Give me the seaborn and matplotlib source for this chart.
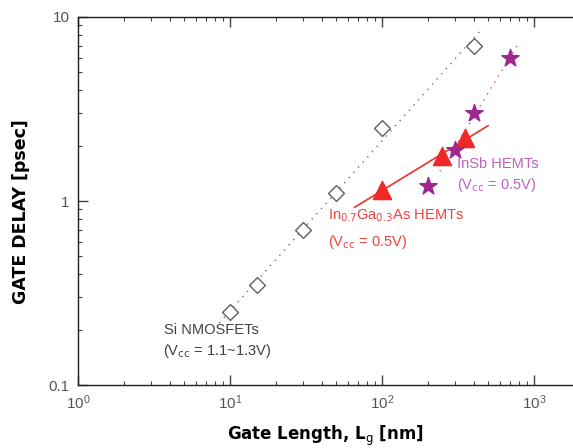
import numpy as np
import pandas as pd
import matplotlib
matplotlib.use("Agg")
import matplotlib.pyplot as plt
import seaborn as sns
from matplotlib.ticker import LogLocator, FixedLocator, FixedFormatter, LogFormatterMathtext, NullFormatter

# ---- data ----
si_len = [10, 15, 30, 50, 100, 400]
si_delay = [0.25, 0.35, 0.7, 1.1, 2.5, 7.0]
si_fit_range = [8.5, 450]

ingaas_len = [100, 250, 350]
ingaas_delay = [1.15, 1.75, 2.2]
ingaas_fit_range = [66, 500]

insb_len = [200, 300, 400, 700]
insb_delay = [1.2, 1.9, 3.0, 6.0]
insb_fit_len = [300, 400, 700]
insb_fit_delay = [1.9, 3.0, 6.0]
insb_fit_range = [240, 780]

y_ticks = [0.1, 1, 10]
y_tick_labels = ["0.1", "1", "10"]

sns.set_theme(style="white")
plt.rcParams['font.family'] = ['Liberation Sans', 'DejaVu Sans']

fig = plt.figure(figsize=(5.73, 4.48), dpi=100)
ax = fig.add_axes([78/573, 63/448, 532/573, 368/448])

def fit_line(xs, ys, rng):
    k, b = np.polyfit(np.log10(xs), np.log10(ys), 1)
    xx = np.logspace(np.log10(rng[0]), np.log10(rng[1]), 50)
    return pd.DataFrame({"x": xx, "y": 10 ** (k * np.log10(xx) + b)})

si_line = fit_line(si_len, si_delay, si_fit_range)
sns.lineplot(data=si_line, x="x", y="y", ax=ax, color="#707070",
             linestyle=(0, (1, 4)), linewidth=1.0)
ga_line = fit_line(ingaas_len, ingaas_delay, ingaas_fit_range)
sns.lineplot(data=ga_line, x="x", y="y", ax=ax, color="#f03030", linewidth=1.2)
sb_line = fit_line(insb_fit_len, insb_fit_delay, insb_fit_range)
sns.lineplot(data=sb_line, x="x", y="y", ax=ax, color="#c050c0",
             linestyle=(0, (1, 4)), linewidth=1.0)

sns.scatterplot(x=si_len, y=si_delay, ax=ax, marker="D", s=65,
                facecolor="white", edgecolor="#606060", linewidth=1.0, zorder=3)
sns.scatterplot(x=ingaas_len, y=ingaas_delay, ax=ax, marker="^", s=170,
                color="#f02828", edgecolor="#f02828", zorder=4)
sns.scatterplot(x=insb_len, y=insb_delay, ax=ax, marker="*", s=170,
                color="#9c2890", edgecolor="#9c2890", zorder=4)

ax.set_xscale("log")
ax.set_yscale("log")
ax.set_xlim(1, 10 ** 3.5)
ax.set_ylim(0.1, 10)

for s in ["left", "bottom", "top"]:
    ax.spines[s].set_color("#202020")
    ax.spines[s].set_linewidth(1.0)
ax.spines["right"].set_visible(False)

ax.xaxis.set_major_locator(LogLocator(base=10, numticks=10))
ax.xaxis.set_major_formatter(LogFormatterMathtext())
ax.xaxis.set_minor_locator(LogLocator(base=10, subs=np.arange(2, 10), numticks=20))
ax.xaxis.set_minor_formatter(NullFormatter())
ax.yaxis.set_major_locator(FixedLocator(y_ticks))
ax.yaxis.set_major_formatter(FixedFormatter(y_tick_labels))
ax.yaxis.set_minor_locator(LogLocator(base=10, subs=np.arange(2, 10), numticks=20))
ax.yaxis.set_minor_formatter(NullFormatter())

ax.tick_params(which="both", direction="in", top=True, bottom=True, left=True,
               right=False, colors="#404040", labelcolor="#555555")
ax.tick_params(which="major", length=7, width=1, labelsize=11, pad=6)
ax.tick_params(which="minor", length=3, width=0.8)

ax.set_xlabel(r"Gate Length, L$_{\rm g}$ [nm]", fontsize=12, fontweight="bold",
              color="black", family="DejaVu Sans")
ax.set_ylabel("GATE DELAY [psec]", fontsize=12.5, fontweight="bold",
              color="black", family="DejaVu Sans")
ax.xaxis.set_label_coords(0.464, -0.105)
ax.yaxis.set_label_coords(-0.09, 0.47)
ax.grid(False)

ax.text(3.7, 0.19, "Si NMOSFETs", color="#404040", fontsize=10.5)
ax.text(3.6, 0.145, r"(V$_{\rm cc}$ = 1.1~1.3V)", color="#404040", fontsize=10.5)
ax.text(44, 0.80, r"In$_{0.7}$Ga$_{0.3}$As HEMTs", color="#f04040", fontsize=10.5)
ax.text(44, 0.57, r"(V$_{\rm cc}$ = 0.5V)", color="#f04040", fontsize=10.5)
ax.text(311, 1.51, "InSb HEMTs", color="#c060c0", fontsize=10.5)
ax.text(311, 1.16, r"(V$_{\rm cc}$ = 0.5V)", color="#c060c0", fontsize=10.5)

fig.savefig("out.png", dpi=100)
